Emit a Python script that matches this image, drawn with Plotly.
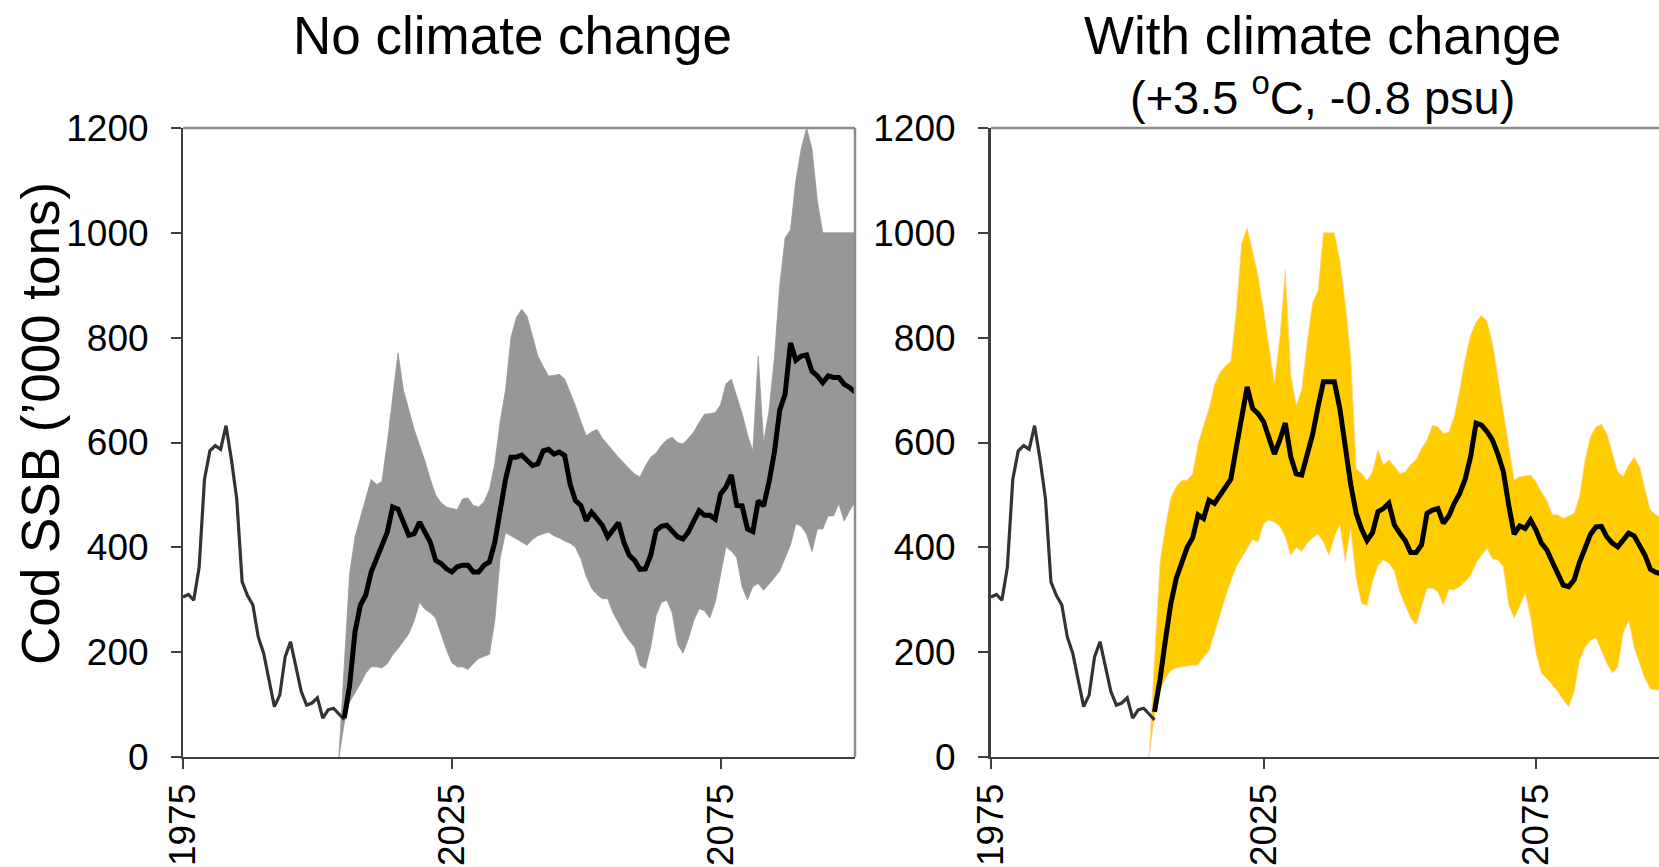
import plotly.graph_objects as go

W, H = 1659, 867

# ---------------- data ('000 tons) ----------------
hist_years = list(range(1975, 2006))
hist_ssb = [305, 310, 299, 362, 530, 584, 594, 587, 632, 568, 492, 334, 308, 290, 229,
            198, 147, 96, 118, 191, 220, 175, 125, 99, 103, 113, 74, 90, 93, 82, 71]

# No climate change
proj_years = list(range(2005, 2101))
med_nocc = [74, 137, 239, 290, 309, 353, 378, 404, 429, 477,
            473, 448, 423, 426, 448, 429, 410, 375, 369, 359,
            353, 363, 366, 366, 353, 353, 366, 372, 410, 470,
            530, 572, 572, 576, 565, 556, 559, 584, 587, 578,
            582, 575, 521, 489, 480, 451, 467, 454, 442, 420,
            435, 447, 410, 385, 375, 358, 359, 385, 432, 440,
            442, 432, 420, 416, 429, 450, 470, 461, 461, 454,
            502, 515, 538, 480, 479, 435, 430, 489, 479, 524,
            581, 662, 692, 790, 757, 765, 767, 736, 727, 714,
            727, 724, 724, 711, 705, 696]
band_years = list(range(2004, 2101))
upper_nocc = [0, 180, 350, 420, 455, 490, 530, 520, 525, 600,
              690, 771, 700, 660, 625, 595, 565, 530, 500, 485,
              477, 474, 472, 492, 494, 480, 477, 487, 510, 560,
              640, 700, 800, 838, 854, 841, 803, 765, 745, 727,
              728, 730, 721, 697, 670, 640, 613, 620, 625, 608,
              595, 584, 572, 560, 550, 540, 534, 555, 572, 580,
              595, 605, 610, 600, 597, 608, 620, 638, 654, 655,
              657, 672, 712, 721, 690, 655, 615, 584, 765, 600,
              660, 760, 900, 990, 1006, 1100, 1160, 1200, 1160, 1060,
              1000, 1000, 1000, 1000, 1000, 1000, 1000]
lower_nocc = [0, 65, 105, 122, 140, 160, 172, 172, 170, 178,
              195, 207, 220, 235, 260, 295, 282, 275, 265, 235,
              205, 180, 172, 172, 167, 178, 188, 192, 196, 260,
              380, 428, 423, 416, 410, 404, 415, 422, 426, 429,
              422, 418, 412, 408, 400, 378, 345, 322, 310, 302,
              302, 275, 255, 237, 222, 210, 175, 169, 210, 270,
              295, 299, 275, 215, 198, 225, 260, 283, 279, 265,
              295, 350, 401, 393, 380, 325, 300, 325, 331, 318,
              330, 342, 355, 378, 405, 445, 440, 425, 392, 435,
              435, 460, 460, 483, 450, 470, 486]

# With climate change (+3.5 C, -0.8 psu)
proj_years_cc = list(range(2005, 2099))
med_cc = [86, 147, 223, 293, 341, 369, 400, 418, 462, 455,
          490, 484, 500, 513, 530, 590, 655, 706, 665, 655,
          640, 612, 578, 605, 637, 573, 540, 538, 579, 615,
          668, 716, 716, 716, 665, 586, 520, 465, 435, 413,
          428, 468, 474, 484, 443, 427, 413, 390, 390, 405,
          465, 471, 474, 446, 460, 484, 503, 530, 573, 637,
          633, 621, 605, 578, 545, 480, 425, 441, 436, 452,
          433, 408, 395, 372, 350, 328, 325, 338, 372, 400,
          425, 439, 440, 420, 408, 401, 413, 427, 422, 405,
          385, 358, 352, 350]
band_years_cc = list(range(2004, 2099))
upper_cc = [0, 190, 370, 440, 495, 516, 528, 528, 540, 598,
            630, 665, 710, 733, 746, 755, 850, 980, 1010, 965,
            919, 853, 785, 713, 800, 929, 729, 671, 700, 790,
            866, 890, 1000, 1000, 1000, 948, 866, 764, 550, 541,
            528, 544, 586, 557, 567, 555, 541, 544, 558, 567,
            589, 605, 633, 630, 617, 620, 650, 700, 760, 805,
            830, 843, 832, 790, 725, 662, 590, 528, 535, 537,
            538, 525, 505, 490, 462, 462, 455, 460, 465, 497,
            567, 611, 630, 635, 617, 580, 544, 535, 557, 572,
            554, 510, 471, 462, 455]
lower_cc = [0, 80, 128, 150, 165, 170, 172, 174, 175, 176,
            191, 202, 235, 270, 305, 335, 363, 380, 397, 415,
            410, 445, 452, 448, 440, 420, 385, 400, 392, 408,
            418, 425, 410, 385, 420, 443, 373, 435, 340, 293,
            289, 335, 365, 376, 370, 355, 315, 290, 265, 252,
            287, 322, 322, 315, 290, 319, 319, 325, 335, 346,
            369, 385, 398, 378, 376, 363, 290, 265, 287, 312,
            268, 198, 160, 150, 138, 125, 109, 96, 125, 185,
            210, 222, 228, 204, 179, 160, 172, 236, 261, 210,
            179, 150, 130, 128, 128]

x_ticks = [1975, 2025, 2075]
y_ticks = [0, 200, 400, 600, 800, 1000, 1200]

titles = ["No climate change", "With climate change",
          "(+3.5 <sup>o</sup>C, -0.8 psu)"]
y_title = "Cod SSB (\u2019000 tons)"

# ---------------- figure ----------------
FONT = "Liberation Sans, Arial, sans-serif"
fig = go.Figure()


def add_panel(xa, ya, by, up, lo, py, med, fillc, edgec):
    fig.add_trace(go.Scatter(
        x=by + by[::-1], y=up + lo[::-1], fill="toself", fillcolor=fillc,
        mode="lines", line=dict(color=edgec, width=0.8),
        xaxis=xa, yaxis=ya, hoverinfo="skip", showlegend=False))
    fig.add_trace(go.Scatter(
        x=hist_years, y=hist_ssb, mode="lines",
        line=dict(color="#333333", width=3.2),
        xaxis=xa, yaxis=ya, hoverinfo="skip", showlegend=False))
    fig.add_trace(go.Scatter(
        x=py, y=med, mode="lines",
        line=dict(color="#000000", width=5),
        xaxis=xa, yaxis=ya, hoverinfo="skip", showlegend=False))


add_panel("x", "y", band_years, upper_nocc, lower_nocc, proj_years, med_nocc,
          "#979797", "#979797")
add_panel("x2", "y2", band_years_cc, upper_cc, lower_cc, proj_years_cc, med_cc,
          "#FFCC00", "#FFD3A0")

y_dom = [1 - 757 / H, 1 - 128 / H]
axis_common = dict(showgrid=False, zeroline=False, showline=True,
                   automargin=False,
                   linecolor="#404040", linewidth=2, ticks="outside",
                   ticklen=10, tickwidth=2, tickcolor="#404040",
                   tickfont=dict(family=FONT, size=37, color="black"))

fig.update_layout(
    width=W, height=H, margin=dict(l=0, r=0, t=0, b=0, autoexpand=False),
    paper_bgcolor="white", plot_bgcolor="white", showlegend=False,
    xaxis=dict(domain=[183 / W, 855 / W], range=[1975, 2100], anchor="y",
               tickvals=x_ticks, tickangle=-90, **axis_common),
    yaxis=dict(domain=y_dom, range=[0, 1200], anchor="x",
               tickvals=y_ticks, ticklabelstandoff=15, **axis_common),
    xaxis2=dict(domain=[991 / W, 1.0], range=[1975, 1975 + 668 / 5.45],
                anchor="y2", tickvals=x_ticks, tickangle=-90, **axis_common),
    yaxis2=dict(domain=y_dom, range=[0, 1200], anchor="x2",
                tickvals=y_ticks, ticklabelstandoff=15, **axis_common),
)
fig.update_yaxes(linewidth=3, selector=dict(anchor="x2"))

border = dict(color="#8c8c8c", width=2.5)
fig.add_shape(type="line", xref="x domain", yref="y domain",
              x0=0, x1=1, y0=1, y1=1, line=border, layer="above")
fig.add_shape(type="line", xref="x domain", yref="y domain",
              x0=1, x1=1, y0=0, y1=1, line=border, layer="above")
fig.add_shape(type="line", xref="x2 domain", yref="y2 domain",
              x0=0, x1=1, y0=1, y1=1, line=border, layer="above")

title_font = dict(family=FONT, size=53, color="black")
fig.add_annotation(text=titles[0], x=512 / W, y=1 - 35 / H, xref="paper",
                   yref="paper", xanchor="center", yanchor="middle",
                   showarrow=False, font=title_font)
fig.add_annotation(text=titles[1], x=1322 / W, y=1 - 35 / H, xref="paper",
                   yref="paper", xanchor="center", yanchor="middle",
                   showarrow=False, font=title_font)
fig.add_annotation(text=titles[2], x=1322 / W, y=1 - 94 / H, xref="paper",
                   yref="paper", xanchor="center", yanchor="middle",
                   showarrow=False, font=dict(family=FONT, size=47, color="black"))
fig.add_annotation(text=y_title, x=40 / W, y=1 - 424 / H, xref="paper",
                   yref="paper", xanchor="center", yanchor="middle",
                   textangle=-90, showarrow=False, font=title_font)

fig.write_html("out.html", config={"displayModeBar": False},
               post_script="document.body.style.margin='0';"
                           "document.body.style.overflow='hidden';")
